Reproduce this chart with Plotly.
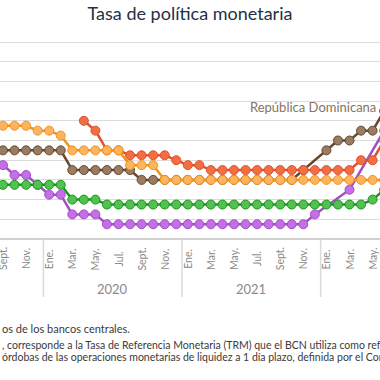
import plotly.graph_objects as go

# month index: 0 = Sept. 2019 ... 33 = Jun. 2022
months = list(range(-1, 34))
tick_vals = list(range(0, 34, 2))
tick_text = ["Sept.", "Nov.", "Ene.", "Mar.", "May.", "Jul.", "Sept.", "Nov.",
             "Ene.", "Mar.", "May.", "Jul.", "Sept.", "Nov.",
             "Ene.", "Mar.", "May."]
years = ["2020", "2021", "2022"]
year_centers = [9.5, 21.5, 33.5]
year_breaks = [3.5, 15.5, 27.5]

N = None
rep_dominicana = [4.5, 4.5, 4.5, 4.5, 4.5, 4.5, 4.5,
                  3.5, 3.5, 3.5, 3.5, 3.5, 3.5,
                  3.0, 3.0, 3.0, 3.0, 3.0, 3.0, 3.0, 3.0, 3.0, 3.0, 3.0, 3.0, 3.0, 3.0,
                  3.5, N, 4.5, 5.0, 5.0, 5.5, 5.5, 6.5]
nicaragua = [N, N, N, N, N, N, N, N,
             6.0, 5.5, 4.5, 4.5, 4.25, 4.25, 4.25, 4.25, 4.0, 3.75, 3.75,
             3.5, 3.5, 3.5, 3.5, 3.5, 3.5, 3.5, 3.5, 3.5, 3.5, 3.5, 3.5, 3.5,
             4.0, 4.0, 5.0]
honduras = [5.75, 5.75, 5.75, 5.75, 5.5, 5.5, 5.25,
            4.5, 4.5, 4.5, 4.5, 4.5, 3.75, 3.75, 3.75,
            3.0, 3.0, 3.0, 3.0, 3.0, 3.0, 3.0, 3.0, 3.0, 3.0, 3.0, 3.0, 3.0, 3.0,
            3.0, 3.0, 3.0, 3.0, 3.0, 3.0]
guatemala = [2.75, 2.75, 2.75, 2.75, 2.75, 2.75, 2.75,
             2.0, 2.0, 2.0,
             1.75, 1.75, 1.75, 1.75, 1.75, 1.75, 1.75, 1.75, 1.75, 1.75, 1.75,
             1.75, 1.75, 1.75, 1.75, 1.75, 1.75, 1.75, 1.75, 1.75, 1.75, 1.75, 1.75,
             2.0, 2.5]
costa_rica = [4.0, 3.75, 3.25, 3.25, 2.75, 2.25, 2.25,
              1.25, 1.25, 1.25,
              0.75, 0.75, 0.75, 0.75, 0.75, 0.75, 0.75, 0.75, 0.75, 0.75, 0.75,
              0.75, 0.75, 0.75, 0.75, 0.75, 0.75, 0.75,
              1.25, N, N, 2.5, N, N, 5.5]

series = [
    ("Costa Rica", costa_rica, "#a24fc4", "#c46ee8"),
    ("República Dominicana", rep_dominicana, "#65492c", "#9a7b63"),
    ("Nicaragua", nicaragua, "#e0522b", "#f26e45"),
    ("Honduras", honduras, "#f5921c", "#fcb45e"),
    ("Guatemala", guatemala, "#18981a", "#52c152"),
]

fig = go.Figure()
for name, vals, lc, mc in series:
    fig.add_trace(go.Scatter(
        x=months, y=vals, name=name, mode="lines+markers",
        connectgaps=True,
        line=dict(color=lc, width=2.5),
        marker=dict(size=9, color=mc, line=dict(color=lc, width=1)),
        showlegend=False, hoverinfo="skip"))

PLOT_H = 197.0
def py(pix):
    return (239.0 - pix) / PLOT_H

shapes = [dict(type="line", xref="paper", yref="y", x0=0, x1=1, y0=10, y1=10,
               line=dict(color="#d2d2d2", width=1.5), layer="below")]
for b in year_breaks:
    shapes.append(dict(type="line", xref="x", yref="paper", x0=b, x1=b,
                       y0=0, y1=py(297), line=dict(color="#dadada", width=1.5)))

ann = []
for v, t in zip(tick_vals, tick_text):
    ann.append(dict(x=v, y=py(259), xref="x", yref="paper", text=t, showarrow=False,
                    textangle=-90, xanchor="center", yanchor="middle",
                    font=dict(size=10.5, color="#8a8a8a", family="Lato")))
for c, t in zip(year_centers, years):
    ann.append(dict(x=c, y=py(289), xref="x", yref="paper", text=t, showarrow=False,
                    xanchor="center", yanchor="middle",
                    font=dict(size=13, color="#8a8a8a", family="Lato")))
ann.append(dict(x=32.47, y=6.69, xref="x", yref="y", text="República Dominicana",
                showarrow=False, xanchor="right", yanchor="middle",
                font=dict(size=13, color="#857462", family="Lato")))
ann.append(dict(x=0, y=py(328), xref="paper", yref="paper",
                text="os de los bancos centrales.", showarrow=False,
                xanchor="left", yanchor="middle",
                font=dict(size=11, color="#3a3a3a", family="Lato")))
ann.append(dict(x=0, y=py(345), xref="paper", yref="paper",
                text=", corresponde a la Tasa de Referencia Monetaria (TRM) que el BCN utiliza como referencia para",
                showarrow=False, xanchor="left", yanchor="middle",
                font=dict(size=10.5, color="#3a3a3a", family="Lato")))
ann.append(dict(x=0, y=py(357), xref="paper", yref="paper",
                text="órdobas de las operaciones monetarias de liquidez a 1 día plazo, definida por el Consejo Directivo",
                showarrow=False, xanchor="left", yanchor="middle",
                font=dict(size=10.5, color="#3a3a3a", family="Lato")))

fig.update_layout(
    width=380, height=380,
    margin=dict(l=0, r=0, t=42, b=141),
    paper_bgcolor="white", plot_bgcolor="white",
    title=dict(text="Tasa de política monetaria", x=0.5, xanchor="center",
               y=1 - 14 / 380, yanchor="middle",
               font=dict(size=18, color="#1f3046", family="Lato")),
    xaxis=dict(range=[-0.26, 32.64], showgrid=False, zeroline=False,
               showticklabels=False, ticks="", showline=False),
    yaxis=dict(range=[0, 10], dtick=1, showgrid=True, gridcolor="#dcdcdc",
               gridwidth=1, zeroline=True, zerolinecolor="#d0d0d0", zerolinewidth=1.5,
               showticklabels=False, ticks=""),
    shapes=shapes, annotations=ann,
)

fig.write_html("out.html", config={"displayModeBar": False},
               post_script="document.body.style.margin='0';document.body.style.overflow='hidden';")
